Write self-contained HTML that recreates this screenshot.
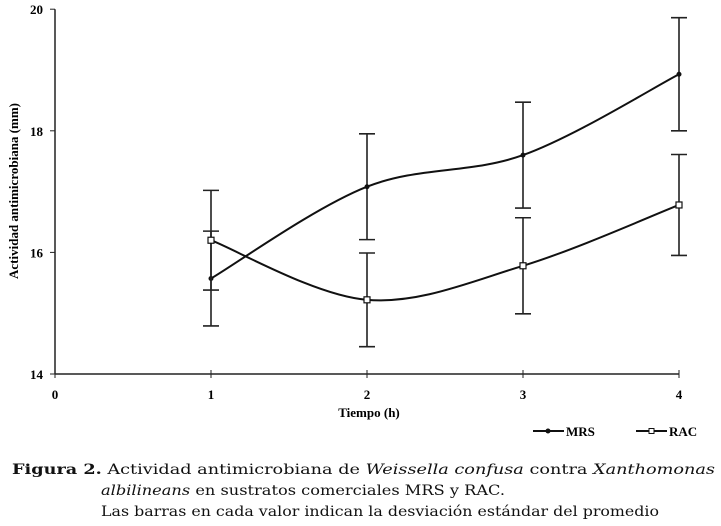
<!DOCTYPE html>
<html><head><meta charset="utf-8"><style>
body{margin:0;background:#fff;width:721px;height:526px;overflow:hidden}
</style></head><body>
<svg width="721" height="526" style="position:absolute;left:0;top:0" font-family="Liberation Serif, serif" font-weight="bold">
<g id="axes"></g><g id="marks"></g>
<text transform="translate(18,191) rotate(-90)" text-anchor="middle" font-size="13">Actividad antimicrobiana (mm)</text>
<text x="369" y="417" text-anchor="middle" font-size="13">Tiempo (h)</text>
<g font-size="13">
<line x1="533" y1="431" x2="564" y2="431" stroke="#111" stroke-width="2"/><circle cx="548" cy="431" r="2.5" fill="#111"/>
<text x="566" y="436">MRS</text>
<line x1="636" y1="431" x2="667" y2="431" stroke="#111" stroke-width="2"/><rect x="649" y="428.5" width="5" height="5" fill="#fff" stroke="#111"/>
<text x="669" y="436">RAC</text>
</g>
<g font-family="DejaVu Serif, serif" font-weight="normal" font-size="14" fill="#111">
<text x="12" y="474" textLength="703" lengthAdjust="spacingAndGlyphs"><tspan font-weight="bold">Figura 2.</tspan> Actividad antimicrobiana de <tspan font-style="italic">Weissella confusa</tspan> contra <tspan font-style="italic">Xanthomonas</tspan></text>
<text x="101" y="495" textLength="404" lengthAdjust="spacingAndGlyphs"><tspan font-style="italic">albilineans</tspan> en sustratos comerciales MRS y RAC.</text>
<text x="101" y="516" textLength="558" lengthAdjust="spacingAndGlyphs">Las barras en cada valor indican la desviación estándar del promedio</text>
</g>
</svg>
<script>
const xCats=[1,2,3,4];
const mrs=[15.57,17.08,17.6,18.93];
const mrsErr=[0.78,0.87,0.87,0.93];
const rac=[16.2,15.22,15.78,16.78];
const racErr=[0.82,0.77,0.79,0.83];
const xTicks=[0,1,2,3,4];
const yTicks=[14,16,18,20];
const X=v=>55+v*156, Y=v=>374-(v-14)*60.8;
const NS="http://www.w3.org/2000/svg";
function mk(p,t,a){const e=document.createElementNS(NS,t);for(const k in a)e.setAttribute(k,a[k]);p.appendChild(e);return e;}
const ax=document.getElementById('axes'), mk2=document.getElementById('marks');
let e=mk(ax,'line',{x1:X(0),y1:Y(20),x2:X(0),y2:Y(14),stroke:'#222','stroke-width':1.5});


e=mk(ax,'line',{x1:X(0),y1:Y(14),x2:X(4),y2:Y(14),stroke:'#222','stroke-width':1.5});


xTicks.forEach(t=>{mk(ax,'line',{x1:X(t),y1:Y(14)-4,x2:X(t),y2:Y(14)+4,stroke:'#222'});
 const tx=mk(ax,'text',{x:X(t),y:399,'text-anchor':'middle','font-size':13});tx.textContent=t;
 
 });
yTicks.forEach(t=>{mk(ax,'line',{x1:X(0)-5,y1:Y(t),x2:X(0),y2:Y(t),stroke:'#222'});
 const tx=mk(ax,'text',{x:43,y:Y(t)+5,'text-anchor':'end','font-size':13});tx.textContent=t;
 
 });
function path(vals){const p=xCats.map((c,i)=>[X(c),Y(vals[i])]);let d=`M${p[0][0]},${p[0][1]}`;
 for(let i=0;i<p.length-1;i++){const p0=p[i-1]||p[i],p1=p[i],p2=p[i+1],p3=p[i+2]||p2;
  d+=` C${p1[0]+(p2[0]-p0[0])/6},${p1[1]+(p2[1]-p0[1])/6} ${p2[0]-(p3[0]-p1[0])/6},${p2[1]-(p3[1]-p1[1])/6} ${p2[0]},${p2[1]}`;}
 return d;}
function series(vals,errs,name,sq){
 const l=mk(mk2,'path',{d:path(vals),fill:'none',stroke:'#111','stroke-width':2});
 
 
 xCats.forEach((c,i)=>{const x=X(c),t=Y(vals[i]+errs[i]),b=Y(vals[i]-errs[i]);
  const g=mk(mk2,'path',{d:`M${x},${t}V${b}M${x-8},${t}H${x+8}M${x-8},${b}H${x+8}`,stroke:'#222','stroke-width':1.6,fill:'none'});
  
  
  const m=sq?mk(mk2,'rect',{x:x-3,y:Y(vals[i])-3,width:6,height:6,fill:'#fff',stroke:'#111','stroke-width':1.2})
            :mk(mk2,'circle',{cx:x,cy:Y(vals[i]),r:2.5,fill:'#111'});
  
  });
}
series(mrs,mrsErr,'mrs',false);
series(rac,racErr,'rac',true);
</script>
</body></html>
